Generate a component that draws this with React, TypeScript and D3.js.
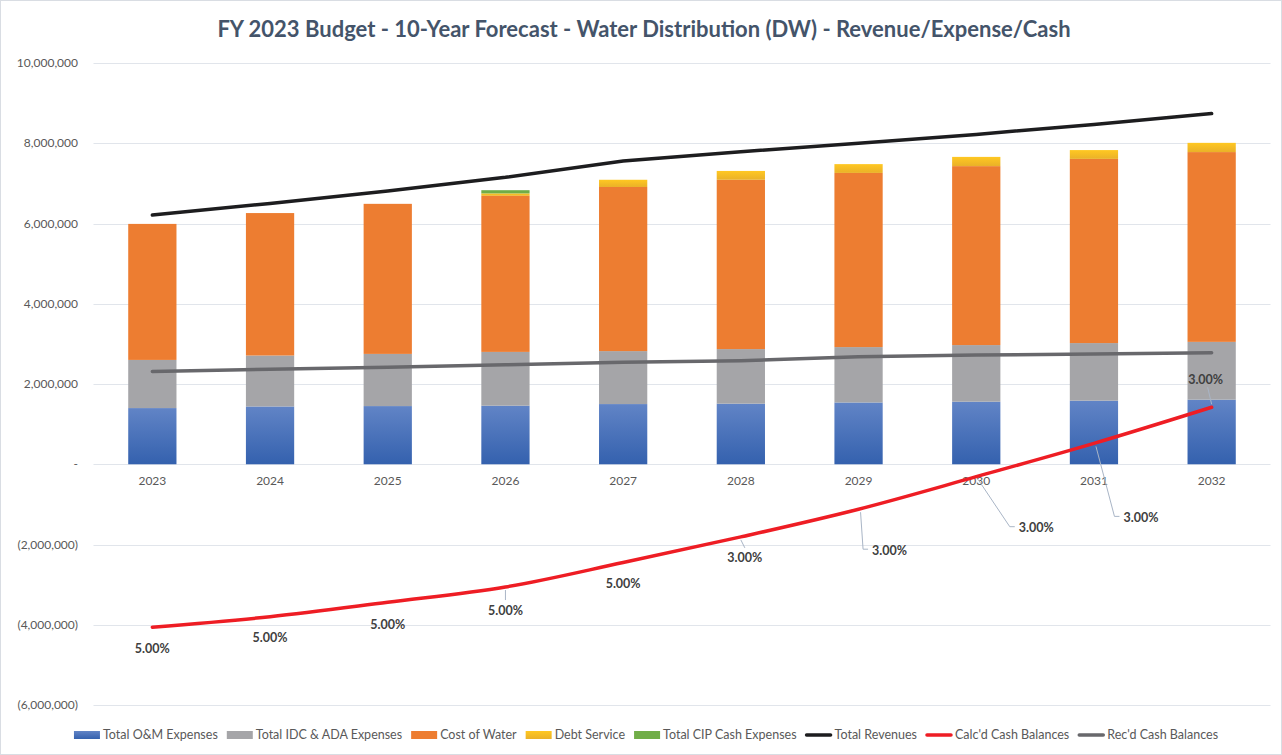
import React, { useEffect, useRef } from 'react';
import * as d3 from 'd3';

const years = ['2023', '2024', '2025', '2026', '2027', '2028', '2029', '2030', '2031', '2032'];
const omExpenses = [1400000, 1440000, 1450000, 1460000, 1500000, 1510000, 1540000, 1560000, 1585000, 1610000];
const idcAdaExpenses = [1200000, 1270000, 1300000, 1340000, 1320000, 1360000, 1380000, 1410000, 1435000, 1440000];
const costOfWater = [3390000, 3550000, 3740000, 3890000, 4090000, 4220000, 4340000, 4460000, 4590000, 4730000];
const debtService = [0, 0, 0, 60000, 180000, 220000, 220000, 230000, 220000, 230000];
const cipCash = [0, 0, 0, 80000, 0, 0, 0, 0, 0, 0];
const totalRevenues = [6210000, 6500000, 6810000, 7150000, 7560000, 7790000, 8000000, 8220000, 8470000, 8740000];
const calcCash = [-4060000, -3800000, -3440000, -3060000, -2450000, -1810000, -1120000, -310000, 520000, 1420000];
const recCash = [2310000, 2370000, 2420000, 2480000, 2540000, 2580000, 2680000, 2720000, 2750000, 2780000];
const rateLabels = ['5.00%', '5.00%', '5.00%', '5.00%', '5.00%', '3.00%', '3.00%', '3.00%', '3.00%', '3.00%'];
const yTicks = [-6000000, -4000000, -2000000, 0, 2000000, 4000000, 6000000, 8000000, 10000000];

// layout-only constants (label placement offsets in px, relative to point)
const labelOffsets: [number, number, boolean][] = [
  [0, 21, false], [0, 21, false], [0, 22, false], [0, 23, true], [0, 21, false],
  [4, 21, true], [31, 41, true], [60, 51, true], [47, 74, true], [-6, -28, true],
];

const W = 1282;
const H = 755;
const FONT = 'Lato, "Open Sans", sans-serif';

export default function App() {
  const ref = useRef<SVGSVGElement | null>(null);

  useEffect(() => {
    const svg = d3.select(ref.current);
    svg.selectAll('*').remove();

    const defs = svg.append('defs');
    const gBlue = defs.append('linearGradient').attr('id', 'gBlue').attr('x1', 0).attr('y1', 0).attr('x2', 0).attr('y2', 1);
    gBlue.append('stop').attr('offset', '0%').attr('stop-color', '#6184c6');
    gBlue.append('stop').attr('offset', '100%').attr('stop-color', '#3461ae');
    const gYel = defs.append('linearGradient').attr('id', 'gYel').attr('x1', 0).attr('y1', 0).attr('x2', 0).attr('y2', 1);
    gYel.append('stop').attr('offset', '0%').attr('stop-color', '#ffc822');
    gYel.append('stop').attr('offset', '100%').attr('stop-color', '#eab128');

    const x = d3.scaleBand<string>().domain(years).range([93.5, 1270.5]).padding(0);
    const y = d3.scaleLinear().domain([-6000000, 10000000]).range([705, 63]);
    const barW = x.bandwidth() * 0.41;
    const cx = (i: number) => (x(years[i]) as number) + x.bandwidth() / 2;

    svg.append('rect').attr('x', 0.5).attr('y', 0.5).attr('width', W - 1).attr('height', H - 1)
      .attr('fill', '#fff').attr('stroke', '#d9dde3');

    // title
    svg.append('text').attr('x', 644).attr('y', 37).attr('text-anchor', 'middle')
      .attr('font-family', FONT).attr('font-weight', 700).attr('font-size', 22).attr('fill', '#44546a')
      .text('FY 2023 Budget - 10-Year Forecast - Water Distribution (DW) - Revenue/Expense/Cash');

    // grid
    const grid = svg.append('g');
    yTicks.forEach((t) => {
      grid.append('line').attr('x1', 93.5).attr('x2', 1270.5).attr('y1', Math.round(y(t)) + 0.5).attr('y2', Math.round(y(t)) + 0.5)
        .attr('stroke', '#e1e5eb').attr('stroke-width', 1);
    });
    const fmt = d3.format(',');
    svg.append('g').selectAll('text').data(yTicks).join('text')
      .attr('x', 78).attr('y', (d) => y(d) + 4).attr('text-anchor', 'end')
      .attr('font-family', FONT).attr('font-size', 12).attr('fill', '#595959')
      .text((d) => (d === 0 ? '-' : d < 0 ? `(${fmt(-d)})` : fmt(d)));

    // stacked bars
    const series: { vals: number[]; fill: string }[] = [
      { vals: omExpenses, fill: 'url(#gBlue)' },
      { vals: idcAdaExpenses, fill: '#a5a5a8' },
      { vals: costOfWater, fill: '#ed7d31' },
      { vals: debtService, fill: 'url(#gYel)' },
      { vals: cipCash, fill: '#70ad47' },
    ];
    const bars = svg.append('g');
    years.forEach((yr, i) => {
      let base = 0;
      series.forEach((s) => {
        const v = s.vals[i];
        if (v > 0) {
          const gradH = y(base) - y(base + v);
          bars.append('rect').attr('x', cx(i) - barW / 2).attr('width', barW)
            .attr('y', y(base + v)).attr('height', gradH).attr('fill', s.fill);
        }
        base += v;
      });
    });

    // x labels
    svg.append('g').selectAll('text').data(years).join('text')
      .attr('x', (_d, i) => cx(i)).attr('y', 485).attr('text-anchor', 'middle')
      .attr('font-family', FONT).attr('font-size', 12).attr('fill', '#595959').text((d) => d);

    // lines
    const lineStraight = d3.line<number>().x((_d, i) => cx(i)).y((d) => y(d));
    const lineSmooth = d3.line<number>().x((_d, i) => cx(i)).y((d) => y(d)).curve(d3.curveCatmullRom.alpha(0.5));
    svg.append('path').attr('d', lineStraight(totalRevenues)).attr('fill', 'none')
      .attr('stroke', '#1d1d1f').attr('stroke-width', 3.5).attr('stroke-linecap', 'round');
    svg.append('path').attr('d', lineStraight(recCash)).attr('fill', 'none')
      .attr('stroke', '#68686c').attr('stroke-width', 3.5).attr('stroke-linecap', 'round');
    svg.append('path').attr('d', lineSmooth(calcCash)).attr('fill', 'none')
      .attr('stroke', '#ee1d24').attr('stroke-width', 3.5).attr('stroke-linecap', 'round');

    // data labels with leaders
    const lbl = svg.append('g');
    calcCash.forEach((v, i) => {
      const px = cx(i);
      const py = y(v);
      const [dx, dy, leader] = labelOffsets[i];
      const lx = px + dx;
      const ly = py + dy;
      const t = lbl.append('text').attr('x', lx).attr('y', ly + 4.5).attr('text-anchor', 'middle')
        .attr('font-family', FONT).attr('font-weight', 700).attr('font-size', 12.5).attr('fill', '#404040')
        .text(rateLabels[i]);
      if (leader) {
        const tw = (t.node() as SVGTextElement).getComputedTextLength();
        let pts: [number, number][];
        if (dy < 0) {
          pts = [[px, py - 3], [lx + 2, ly + 8]];
        } else if (dx > 15) {
          const ax = lx - tw / 2 - 4;
          pts = [[px + 2, py + 3], [ax - 5, ly - 1], [ax, ly - 1]];
        } else {
          pts = [[px, py + 3], [lx, ly - 10]];
        }
        lbl.append('path').attr('d', d3.line()(pts)).attr('fill', 'none')
          .attr('stroke', '#a9b5c6').attr('stroke-width', 1);
      }
    });

    // legend
    const legendItems: { name: string; kind: 'rect' | 'line'; color: string }[] = [
      { name: 'Total O&M Expenses', kind: 'rect', color: 'url(#gBlue)' },
      { name: 'Total IDC & ADA Expenses', kind: 'rect', color: '#a5a5a8' },
      { name: 'Cost of Water', kind: 'rect', color: '#ed7d31' },
      { name: 'Debt Service', kind: 'rect', color: 'url(#gYel)' },
      { name: 'Total CIP Cash Expenses', kind: 'rect', color: '#70ad47' },
      { name: 'Total Revenues', kind: 'line', color: '#1d1d1f' },
      { name: "Calc'd Cash Balances", kind: 'line', color: '#ee1d24' },
      { name: "Rec'd Cash Balances", kind: 'line', color: '#68686c' },
    ];
    const lg = svg.append('g');
    const ly = 735;
    const swW = 26;
    const gapT = 3;
    const gapI = 9;
    const widths: number[] = [];
    const texts = legendItems.map((it) => {
      const t = lg.append('text').attr('y', ly + 4).attr('font-family', FONT).attr('font-size', 12.5)
        .attr('fill', '#595959').text(it.name);
      widths.push((t.node() as SVGTextElement).getComputedTextLength());
      return t;
    });
    const total = widths.reduce((a, b) => a + b, 0) + legendItems.length * (swW + gapT) + (legendItems.length - 1) * gapI;
    let cur = 646 - total / 2;
    legendItems.forEach((it, i) => {
      if (it.kind === 'rect') {
        lg.append('rect').attr('x', cur).attr('y', ly - 4).attr('width', swW).attr('height', 8).attr('fill', it.color);
      } else {
        lg.append('line').attr('x1', cur + 1).attr('x2', cur + swW - 1).attr('y1', ly).attr('y2', ly)
          .attr('stroke', it.color).attr('stroke-width', 3.5).attr('stroke-linecap', 'round');
      }
      texts[i].attr('x', cur + swW + gapT);
      cur += swW + gapT + widths[i] + gapI;
    });
  }, []);

  return (
    <svg ref={ref} width={W} height={H} style={{ position: 'absolute', left: 0, top: 0, display: 'block' }} />
  );
}
